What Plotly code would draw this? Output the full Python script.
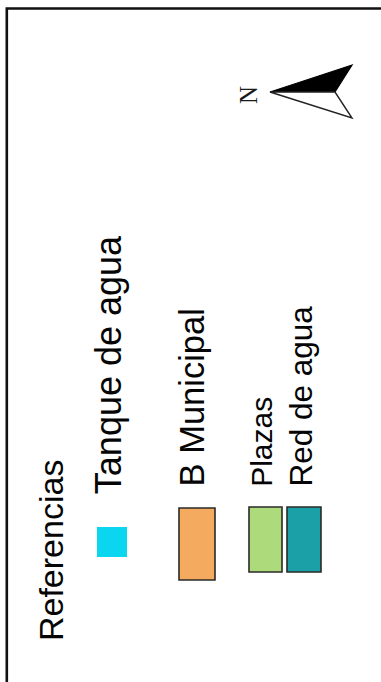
import plotly.graph_objects as go

# --- datos de la leyenda ---
titulo = "Referencias"
etiquetas = ["Tanque de agua", "B Municipal", "Plazas", "Red de agua"]
colores = ["#0ad6f0", "#f4ab5f", "#addb7b", "#1aa0a6"]
con_borde = [False, True, True, True]
norte = "N"

# --- posiciones (pixeles de la imagen, eje y hacia abajo) ---
W, H = 381, 682
# [x0, y0, x1, y1] de cada recuadro de color
cajas = [[97, 527, 127, 557], [179, 508, 215, 580], [249, 507, 282, 572], [287, 507, 321, 572]]
# (x borde superior de mayusculas, y inicio del texto, tamano de letra)
pos_titulo = (37, 642, 34)
pos_etiquetas = [(94, 495, 36), (179, 487, 34.5), (249, 488, 30), (287, 488, 31.5)]

fuente = "Liberation Sans"
color_texto = "#050505"

fig = go.Figure()
shapes = []
annotations = []

# marco (solo se ven los lados izquierdo y superior)
shapes.append(dict(type="rect", xref="x", yref="y", x0=6.8, y0=8.5, x1=W + 20, y1=H + 20,
                   line=dict(color="#111111", width=2.6), fillcolor="rgba(0,0,0,0)"))

# recuadros de color
for caja, col, borde in zip(cajas, colores, con_borde):
    shapes.append(dict(type="rect", xref="x", yref="y",
                       x0=caja[0], y0=caja[1], x1=caja[2], y1=caja[3],
                       fillcolor=col,
                       line=dict(color="#2a2a2a", width=1.6 if borde else 0)))


def texto_girado(texto, x_cap, y_ini, size):
    # texto rotado -90 grados, se lee de abajo hacia arriba
    return dict(text=texto, xref="x", yref="y",
                x=x_cap - 0.19 * size - 1, y=y_ini + 1,
                xanchor="left", yanchor="bottom", textangle=-90,
                showarrow=False, font=dict(family=fuente, size=size, color=color_texto))


annotations.append(texto_girado(titulo, *pos_titulo))
for txt, p in zip(etiquetas, pos_etiquetas):
    annotations.append(texto_girado(txt, *p))

# flecha del norte
shapes.append(dict(type="path", xref="x", yref="y",
                   path="M 270 92 L 352 65 L 335 92 Z",
                   fillcolor="#000000", line=dict(color="#000000", width=1.2)))
shapes.append(dict(type="path", xref="x", yref="y",
                   path="M 270 92 L 335 92 L 352 118 Z",
                   fillcolor="#ffffff", line=dict(color="#222222", width=1.4)))
annotations.append(dict(text=norte, xref="x", yref="y", x=248, y=95,
                        xanchor="center", yanchor="middle", textangle=-90,
                        showarrow=False,
                        font=dict(family="Liberation Serif", size=25, color="#1a1a1a")))

fig.update_layout(
    width=W, height=H,
    margin=dict(l=0, r=0, t=0, b=0),
    paper_bgcolor="white", plot_bgcolor="white",
    xaxis=dict(range=[0, W], visible=False, fixedrange=True),
    yaxis=dict(range=[H, 0], visible=False, fixedrange=True),
    shapes=shapes, annotations=annotations,
    showlegend=False,
)

# quitar el margen por defecto del body para que la figura empiece en (0, 0)
fig.write_html("out.html", config={"displayModeBar": False},
               post_script="document.body.style.margin='0';")
